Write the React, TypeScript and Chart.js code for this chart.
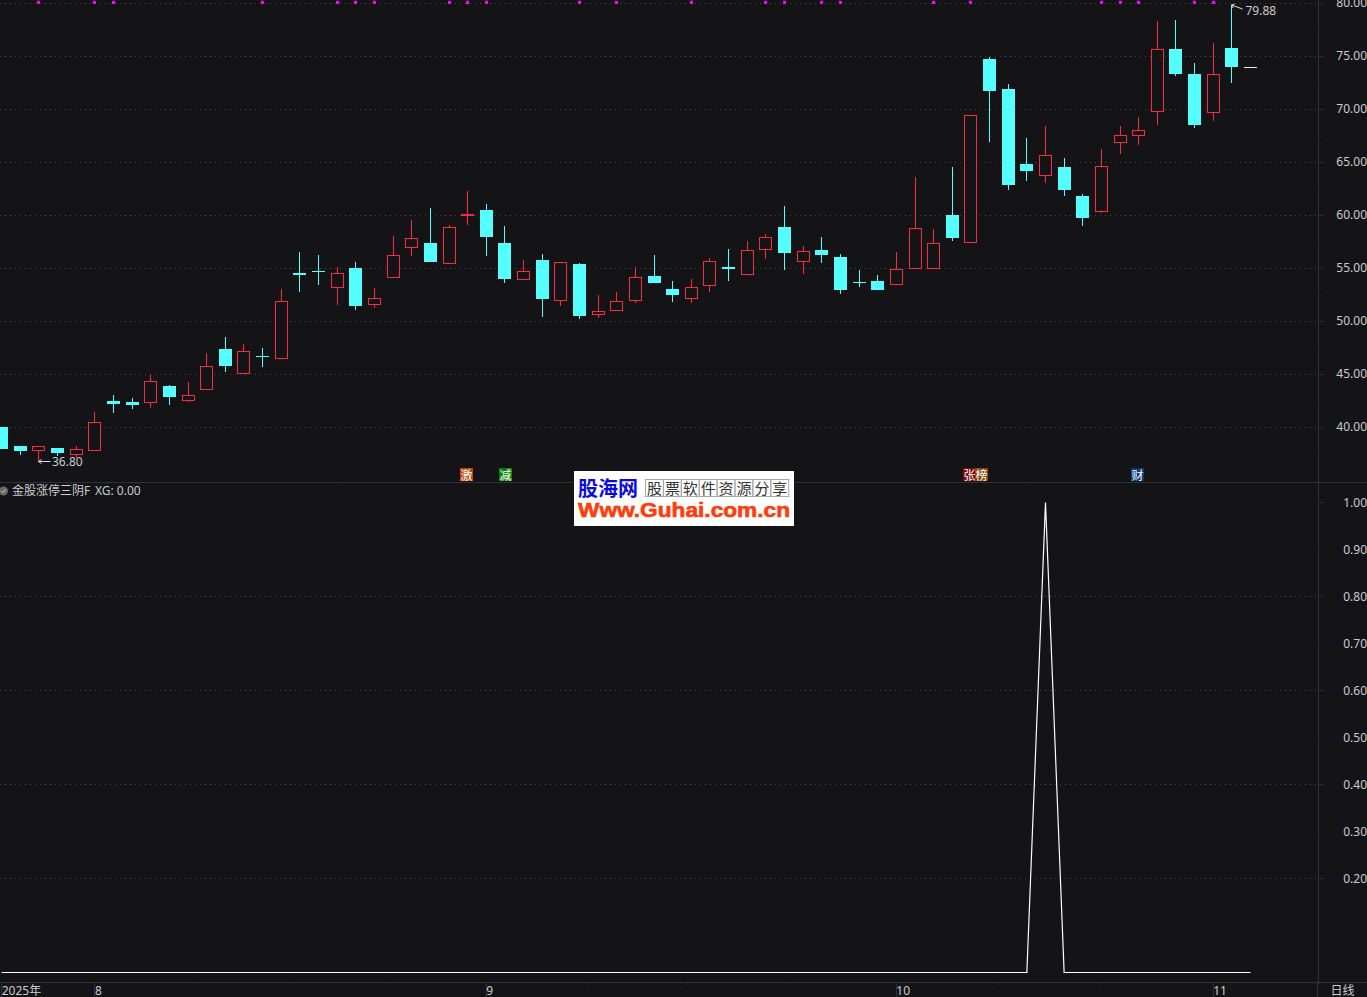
import React, { useEffect, useRef } from "react";
import { Chart, registerables } from "chart.js";

Chart.register(...registerables);

const opens = [40.03,38.23,37.79,38.04,37.41,37.79,42.48,42.36,42.32,43.89,42.51,43.55,47.39,45.05,46.68,46.47,54.56,54.74,53.17,55.03,51.56,54.11,56.94,57.38,55.43,59.96,60.50,57.38,53.92,55.78,51.94,55.40,50.62,51.00,51.94,54.27,53.05,52.13,53.36,55.12,54.39,56.75,58.89,55.62,56.72,56.06,53.71,53.80,53.45,54.96,54.96,60.03,57.36,74.74,71.91,64.84,63.73,64.56,61.82,60.34,66.85,67.51,69.77,75.69,73.33,69.68,75.78,73.96];
const closes = [37.95,37.76,38.23,37.57,37.92,40.47,42.20,42.10,44.34,42.86,43.02,45.75,45.78,47.17,46.63,51.88,54.37,54.68,54.53,51.44,52.17,56.23,57.83,55.59,58.89,60.12,57.95,53.99,54.71,52.10,55.56,50.50,50.94,51.88,54.15,53.61,52.48,53.20,55.66,54.93,56.70,57.92,56.44,56.60,56.25,52.95,53.61,52.95,54.90,58.77,57.36,57.86,69.43,71.72,62.86,64.18,65.66,62.39,59.74,64.62,67.55,68.02,75.66,73.33,68.52,73.30,73.99,73.96];
const highs = [40.03,38.23,38.23,38.04,38.23,41.44,43.05,42.76,44.96,43.99,44.24,47.01,48.52,47.86,47.48,53.02,56.51,56.25,55.09,55.59,53.14,58.05,59.55,60.69,59.08,62.29,61.06,58.99,55.78,56.35,55.56,55.50,52.48,52.76,55.09,56.25,53.80,53.99,55.97,56.82,57.57,58.23,60.87,57.10,57.95,56.35,54.84,54.37,56.54,63.61,58.71,64.55,69.43,74.93,72.39,67.29,68.42,65.40,62.01,66.25,68.42,69.27,78.33,78.42,74.37,76.25,79.88,73.96];
const lows = [37.95,37.39,36.80,37.29,37.13,37.79,41.38,41.72,41.85,42.10,42.39,43.55,45.22,45.05,45.69,46.47,52.76,53.45,51.54,51.06,51.25,54.11,56.16,55.59,55.43,59.08,56.16,53.61,53.92,50.40,51.44,50.22,50.31,51.00,51.72,53.61,51.82,51.72,52.76,53.80,54.39,55.88,54.84,54.46,55.50,52.57,53.23,52.95,53.45,54.96,54.96,57.57,57.36,66.91,62.39,63.23,63.05,61.82,58.99,60.22,65.78,66.63,68.52,73.14,68.23,68.89,72.48,73.96];

// Bars on which the formula fires; the XG pane is 0 everywhere else.
const xgSignalBar = 56;
const xgValues = opens.map((_, i) => (i === xgSignalBar ? 1 : 0));

// Bars that carry a magenta dot along the top edge.
const dotBars = [2,5,6,14,18,19,20,24,25,26,31,33,37,41,42,44,45,50,52,59,60,61,64,65];
const dotLevel = 80.07;

const priceTicks = [40,45,50,55,60,65,70,75,80];
const priceMinorTicks = [37.5,42.5,47.5,52.5,57.5,62.5,67.5,72.5,77.5];
const xgTicks = [0.2,0.4,0.6,0.8,1.0];
const xgMinorTicks = [0.3,0.5,0.7,0.9];
const xgGridTicks = [0.2,0.4,0.6,0.8];

const monthBars = [0,5,26,48,65];
const monthLabels = ["2025年","8","9","10","11"];
const weekTicks = [10.26,15.5,20.7,31.5,36.75,42,53.5,58.8];

const lowMark = { bar: 2, value: 36.8, text: "36.80" };
const highMark = { bar: 66, value: 79.88, text: "79.88" };
const newsTags = [
  { bar: 25, dx: -1, text: "激", color: "#b84a0e" },
  { bar: 27, dx: 1, text: "减", color: "#0a7d0a" },
  { bar: 52, dx: -1, text: "张", color: "#7d0a0a" },
  { bar: 52, dx: 11, text: "榜", color: "#8a4a0a" },
  { bar: 61, dx: -1, text: "财", color: "#0a3a70" },
];
const paneTitle = "金股涨停三阴F";
const paneValue = "XG: 0.00";
const periodLabel = "日线";
const siteName = "股海网";
const siteSlogan = ["股","票","软","件","资","源","分","享"];
const siteUrl = "Www.Guhai.com.cn";

const BG = "#141315";
const UP = "#f7284a";
const DOWN = "#55ffff";
const FLAT = "#e6e6e6";
const FRAME = "#2f313a";
const TEXT = "#c9ccd1";
const DOTS = "#474747";
const FONT = '"Noto Sans", "Noto Sans CJK SC", sans-serif';

const colorOf = (i: number) =>
  closes[i] > opens[i] ? UP : closes[i] < opens[i] ? DOWN : FLAT;

const snapPlugin = {
  id: "snap",
  beforeDatasetsDraw(chart: any) {
    for (const meta of chart.getSortedVisibleDatasetMetas()) {
      if (meta.type === "bar") {
        for (const el of meta.data) {
          el.x = Math.floor(el.x) + 0.5;
          el.y = Math.round(el.y);
          el.base = Math.round(el.base);
          if (Math.abs(el.y - el.base) < 1) el.base = el.y + 1;
        }
      } else if (meta.type === "scatter") {
        for (const el of meta.data) {
          el.x = Math.floor(el.x) + 0.5;
          el.y = Math.floor(el.y) + 0.5;
        }
      }
    }
  },
};

const backgroundPlugin = {
  id: "paper",
  beforeDraw(chart: any) {
    const c = chart.ctx;
    c.save();
    c.fillStyle = BG;
    c.fillRect(0, 0, chart.width, chart.height);
    c.restore();
  },
};

const overlayPlugin = {
  id: "overlay",
  afterDraw(chart: any) {
    const c = chart.ctx;
    const xS = chart.scales.x;
    const yP = chart.scales.y;
    const yX = chart.scales.y2;
    const W = chart.width;
    const H = chart.height;
    const axisX = chart.chartArea.right;
    const paneY = Math.round(yP.bottom);
    const baseY = Math.round(chart.chartArea.bottom);
    c.save();

    // frame
    c.strokeStyle = FRAME;
    c.lineWidth = 1;
    c.beginPath();
    c.moveTo(0, paneY - 0.5);
    c.lineTo(W, paneY - 0.5);
    c.moveTo(0, baseY - 0.5);
    c.lineTo(W, baseY - 0.5);
    c.moveTo(axisX - 0.5, baseY);
    c.lineTo(axisX - 0.5, H);
    c.stroke();

    // minor ticks on the right axes and under the time axis
    c.beginPath();
    for (const v of priceMinorTicks) {
      const y = Math.round(yP.getPixelForValue(v)) + 0.5;
      c.moveTo(axisX, y);
      c.lineTo(axisX + 3, y);
    }
    for (const v of xgMinorTicks) {
      const y = Math.round(yX.getPixelForValue(v)) + 0.5;
      c.moveTo(axisX, y);
      c.lineTo(axisX + 2, y);
    }
    for (const v of weekTicks) {
      const x = Math.round(xS.getPixelForValue(v)) + 0.5;
      c.moveTo(x, baseY);
      c.lineTo(x, baseY + 2);
    }
    c.stroke();

    // high / low callouts
    c.strokeStyle = "#dcdcdc";
    c.fillStyle = TEXT;
    c.font = `12px ${FONT}`;
    c.textBaseline = "middle";
    c.textAlign = "left";
    const lx = Math.floor(xS.getPixelForValue(lowMark.bar)) + 0.5;
    const ly = Math.round(yP.getPixelForValue(lowMark.value)) + 0.5;
    c.beginPath();
    c.moveTo(lx, ly);
    c.lineTo(lx + 12, ly);
    c.moveTo(lx, ly);
    c.lineTo(lx + 3, ly - 2);
    c.moveTo(lx, ly);
    c.lineTo(lx + 3, ly + 2);
    c.stroke();
    c.fillText(lowMark.text, lx + 13.5, ly + 1.5);
    const hx = Math.floor(xS.getPixelForValue(highMark.bar)) + 0.5;
    const hy = Math.round(yP.getPixelForValue(highMark.value));
    c.beginPath();
    c.moveTo(hx, hy);
    c.lineTo(hx + 11, hy + 4);
    c.moveTo(hx, hy);
    c.lineTo(hx + 3, hy - 1);
    c.moveTo(hx, hy);
    c.lineTo(hx + 1.5, hy + 3);
    c.stroke();
    c.fillText(highMark.text, hx + 14, hy + 6.5);

    // news tags
    c.textAlign = "center";
    c.font = `12px "Noto Sans CJK SC", sans-serif`;
    for (const t of newsTags) {
      const x = Math.floor(xS.getPixelForValue(t.bar)) + t.dx - 6;
      c.fillStyle = t.color;
      c.fillRect(x, 468, 13, 13);
      c.fillStyle = "#ffffff";
      c.fillText(t.text, x + 6.5, 475);
    }

    // indicator caption
    c.fillStyle = "#6a6a6a";
    c.beginPath();
    c.arc(3.5, 491, 4.5, 0, Math.PI * 2);
    c.fill();
    c.strokeStyle = "#d0d0d0";
    c.beginPath();
    c.moveTo(1.5, 491);
    c.lineTo(3, 492.5);
    c.lineTo(5.5, 489.5);
    c.stroke();
    c.textAlign = "left";
    c.fillStyle = TEXT;
    c.font = `12px ${FONT}`;
    c.fillText(paneTitle, 12, 492);
    c.fillText(paneValue, 95, 492);

    // period label
    c.textAlign = "center";
    c.fillText(periodLabel, 1342.5, 992);

    // watermark
    c.fillStyle = "#ffffff";
    c.fillRect(574, 471, 220, 55);
    c.fillStyle = "#0a0ae0";
    c.textAlign = "left";
    c.font = `bold 20px "Noto Sans CJK SC", sans-serif`;
    c.fillText(siteName, 578, 488);
    c.strokeStyle = "#a8a8a8";
    c.font = `15px "Noto Sans CJK SC", sans-serif`;
    c.textAlign = "center";
    siteSlogan.forEach((ch, i) => {
      const x = 645.5 + i * 17.9;
      c.strokeRect(x, 479.5, 17.9, 17);
      c.fillStyle = "#333333";
      c.fillText(ch, x + 9, 488.5);
    });
    c.fillStyle = "#ff3c0a";
    c.textAlign = "left";
    c.font = `900 20px "Liberation Sans", sans-serif`;
    c.lineWidth = 0.6;
    c.strokeStyle = "#ff3c0a";
    const urlScale = 212 / c.measureText(siteUrl).width;
    c.save();
    c.translate(578, 511);
    c.scale(urlScale, 1);
    c.fillText(siteUrl, 0, 0);
    c.strokeText(siteUrl, 0, 0);
    c.restore();
    c.restore();
  },
};

const noPadding = (s: any) => {
  s.paddingTop = 0;
  s.paddingBottom = 0;
  s.paddingLeft = 0;
  s.paddingRight = 0;
};

export default function App() {
  const ref = useRef<HTMLCanvasElement | null>(null);
  useEffect(() => {
    const canvas = ref.current!;
    canvas.getContext("2d", { alpha: false });
    const bars = opens.map((_, i) => i);
    const chart = new Chart(canvas, {
      type: "bar",
      data: {
        datasets: [
          {
            type: "bar",
            label: "wick",
            order: 3,
            yAxisID: "y",
            data: bars.map((i) => ({ x: i, y: [lows[i], highs[i]] })),
            barThickness: 1,
            grouped: false,
            inflateAmount: 0,
            backgroundColor: bars.map(colorOf),
            borderWidth: 0,
          },
          {
            type: "bar",
            label: "body",
            order: 2,
            yAxisID: "y",
            data: bars.map((i) => ({ x: i, y: [opens[i], closes[i]] })),
            barThickness: 13,
            grouped: false,
            inflateAmount: 0,
            borderSkipped: false,
            backgroundColor: bars.map((i) => (closes[i] > opens[i] ? BG : colorOf(i))),
            borderColor: bars.map(colorOf),
            borderWidth: bars.map((i) => (closes[i] > opens[i] ? 1 : 0)),
          },
          {
            type: "scatter",
            label: "signal dots",
            order: 1,
            yAxisID: "y",
            data: dotBars.map((i) => ({ x: i, y: dotLevel })),
            pointStyle: "rect",
            pointRadius: 3 / Math.SQRT2,
            pointBackgroundColor: "#ff00ff",
            pointBorderWidth: 0,
          },
          {
            type: "line",
            label: "XG",
            order: 1,
            yAxisID: "y2",
            data: bars.map((i) => ({ x: i, y: xgValues[i] })),
            borderColor: "#ffffff",
            borderWidth: 1.2,
            tension: 0,
            pointRadius: 0,
            fill: false,
          },
        ],
      } as any,
      options: {
        responsive: false,
        animation: false,
        devicePixelRatio: 1,
        layout: { padding: 0, autoPadding: false },
        events: [],
        plugins: { legend: { display: false }, tooltip: { enabled: false }, title: { display: false } },
        scales: {
          x: {
            type: "linear",
            offset: false,
            min: -0.09,
            max: 70.62,
            afterFit: (s: any) => { s.height = 14; noPadding(s); },
            afterBuildTicks: (s: any) => { s.ticks = monthBars.map((value) => ({ value })); },
            grid: { offset: false, drawOnChartArea: false, tickLength: 14, tickColor: FRAME },
            border: { display: false },
            ticks: {
              autoSkip: false,
              maxRotation: 0,
              minRotation: 0,
              align: "start",
              padding: -13,
              color: TEXT,
              font: { family: FONT, size: 12 },
              callback: (v: any) => monthLabels[monthBars.indexOf(v)] ?? "",
            },
          },
          y: {
            type: "linear",
            position: "right",
            stack: "panes",
            stackWeight: 483,
            min: 34.74,
            max: 80.31,
            afterFit: (s: any) => { s.width = 49; noPadding(s); },
            afterBuildTicks: (s: any) => { s.ticks = priceTicks.map((value) => ({ value })); },
            grid: { color: DOTS, tickColor: FRAME, tickLength: 5, lineWidth: 1 },
            border: { display: true, color: FRAME, width: 1, dash: [1, 4] },
            ticks: {
              autoSkip: false,
              crossAlign: "far",
              padding: 5,
              color: TEXT,
              font: { family: FONT, size: 12 },
              callback: (v: any) => Number(v).toFixed(2),
            },
          },
          y2: {
            type: "linear",
            position: "right",
            stack: "panes",
            stackWeight: 500,
            min: -0.0223,
            max: 1.0415,
            afterFit: (s: any) => { s.width = 49; noPadding(s); },
            afterBuildTicks: (s: any) => {
              s.ticks = [...xgTicks, ...xgMinorTicks].sort((a, b) => a - b).map((value) => ({ value }));
            },
            grid: {
              color: (ctx: any) => (xgGridTicks.includes(ctx.tick?.value) ? DOTS : "rgba(0,0,0,0)"),
              tickColor: (ctx: any) => (xgTicks.includes(ctx.tick?.value) ? FRAME : "rgba(0,0,0,0)"),
              tickLength: 5,
              lineWidth: 1,
            },
            border: { display: true, color: FRAME, width: 1, dash: [1, 4] },
            ticks: {
              autoSkip: false,
              crossAlign: "far",
              padding: 5,
              labelOffset: 1,
              color: TEXT,
              font: { family: FONT, size: 12 },
              callback: (v: any) => Number(v).toFixed(2),
            },
          },
        },
      } as any,
      plugins: [backgroundPlugin, snapPlugin, overlayPlugin],
    });
    return () => chart.destroy();
  }, []);
  return (
    <div style={{ position: "fixed", left: 0, top: 0, width: 1367, height: 997, background: BG, overflow: "hidden" }}>
      <canvas ref={ref} width={1367} height={997} style={{ display: "block", width: 1367, height: 997 }} />
    </div>
  );
}
